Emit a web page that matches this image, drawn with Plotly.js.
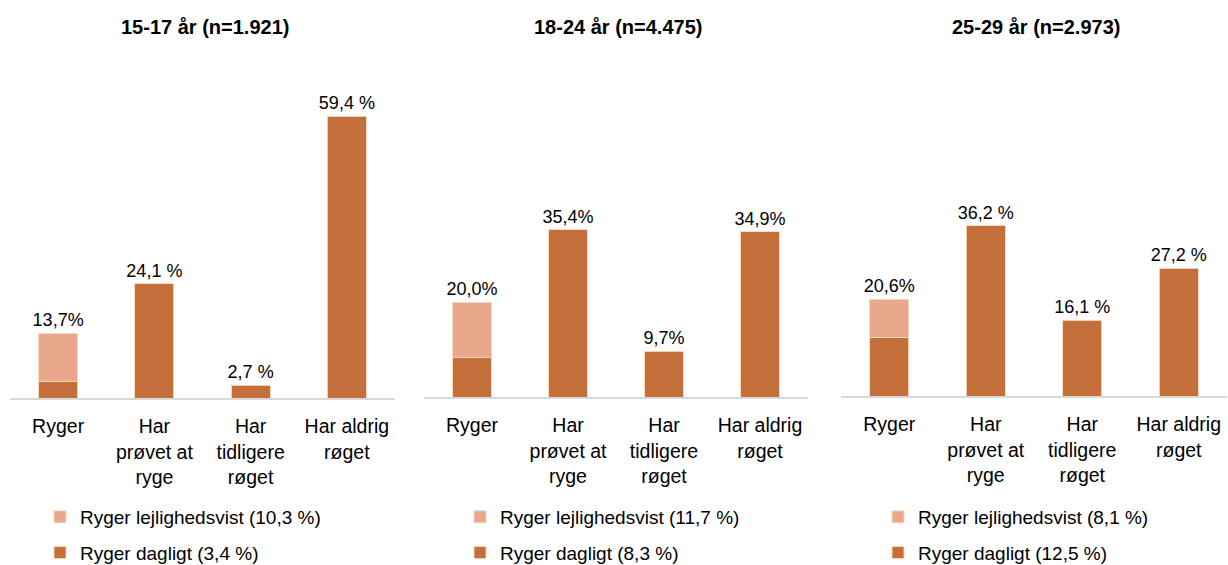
<!DOCTYPE html>
<html>
<head>
<meta charset="utf-8">
<script src="https://cdn.plot.ly/plotly-3.0.1.min.js"></script>
<style>
html,body{margin:0;padding:0;background:#fff;}
#chart{width:1228px;height:565px;}
</style>
</head>
<body>
<div id="chart"></div>
<script>
// ---- data ----
const panelTitles = ['15-17 år (n=1.921)', '18-24 år (n=4.475)', '25-29 år (n=2.973)'];
const categories = ['Ryger', 'Har prøvet at ryge', 'Har tidligere røget', 'Har aldrig røget'];
const tickLabels = ['Ryger', 'Har<br>prøvet at<br>ryge', 'Har<br>tidligere<br>røget', 'Har aldrig<br>røget'];
const dailySmokers = [3.4, 8.3, 12.5];
const occasionalSmokers = [10.3, 11.7, 8.1];
const triedSmoking = [24.1, 35.4, 36.2];
const formerSmokers = [2.7, 9.7, 16.1];
const neverSmoked = [59.4, 34.9, 27.2];
const smokerLabels = ['13,7%', '20,0%', '20,6%'];
const triedLabels = ['24,1 %', '35,4%', '36,2 %'];
const formerLabels = ['2,7 %', '9,7%', '16,1 %'];
const neverLabels = ['59,4 %', '34,9%', '27,2 %'];

// ---- styles / layout ----
const DARK = '#C5703A';
const LIGHT = '#E9A88C';
const EDGE = 'rgba(250,215,190,0.9)';
const FONT = 'Liberation Sans, Arial, sans-serif';
const W = 1228, H = 565;
const xPix = [[10, 395], [424, 808], [841, 1227]];
const baseY = [398, 397, 396];
const pxPerPct = [4.74, 4.73, 4.70];
const plotH = 300;
const legendLeft = [40, 460, 878];

const fmt = v => v.toFixed(1).replace('.', ',');

const traces = [];
const layout = {
  width: W, height: H,
  margin: {l: 0, r: 0, t: 0, b: 0, autoexpand: false},
  paper_bgcolor: '#fff', plot_bgcolor: '#fff',
  barmode: 'stack', bargap: 0.594,
  showlegend: true,
  font: {family: FONT, color: '#000'},
  annotations: []
};

for (let p = 0; p < 3; p++) {
  const sx = p === 0 ? '' : String(p + 1);
  const xa = 'x' + sx, ya = 'y' + sx;
  const lg = 'legend' + sx;
  const common = {type: 'bar', xaxis: xa, yaxis: ya, hoverinfo: 'skip',
    textposition: 'outside', constraintext: 'none', cliponaxis: false,
    textfont: {family: FONT, size: 18, color: '#000'}, legend: lg};
  traces.push(Object.assign({}, common, {
    x: [categories[0]], y: [dailySmokers[p]],
    name: 'Ryger dagligt (' + fmt(dailySmokers[p]) + ' %)',
    legendgroup: 'd' + p, legendrank: 2,
    marker: {color: DARK, line: {color: EDGE, width: 1}}
  }));
  traces.push(Object.assign({}, common, {
    x: [categories[0]], y: [occasionalSmokers[p]],
    text: [smokerLabels[p]],
    name: 'Ryger lejlighedsvist (' + fmt(occasionalSmokers[p]) + ' %)',
    legendgroup: 'o' + p, legendrank: 1,
    marker: {color: LIGHT, line: {color: EDGE, width: 1}}
  }));
  traces.push(Object.assign({}, common, {
    x: categories.slice(1), y: [triedSmoking[p], formerSmokers[p], neverSmoked[p]],
    text: [triedLabels[p], formerLabels[p], neverLabels[p]],
    showlegend: false, legendgroup: 'n' + p, legendrank: 3,
    marker: {color: DARK, line: {color: EDGE, width: 1}}
  }));

  layout['xaxis' + sx] = {
    domain: [xPix[p][0] / W, xPix[p][1] / W],
    anchor: ya,
    type: 'category',
    categoryorder: 'array', categoryarray: categories,
    tickmode: 'array', tickvals: categories, ticktext: tickLabels,
    showline: true, linecolor: '#D9D9D9', linewidth: 2,
    showgrid: false, zeroline: false, ticks: '',
    ticklabelstandoff: 10,
    tickfont: {family: FONT, size: 19.5, color: '#000'},
    fixedrange: true
  };
  layout['yaxis' + sx] = {
    domain: [(H - baseY[p]) / H, (H - baseY[p] + plotH) / H],
    anchor: xa,
    range: [0, plotH / pxPerPct[p]],
    visible: false, showgrid: false, zeroline: false, fixedrange: true
  };
  layout[lg] = {
    x: legendLeft[p] / W, xanchor: 'left',
    y: (H - 498) / H, yanchor: 'top',
    bgcolor: 'rgba(0,0,0,0)', borderwidth: 0,
    font: {family: FONT, size: 19, color: '#000'},
    traceorder: 'grouped', tracegroupgap: 8,
    orientation: 'v'
  };
  layout.annotations.push({
    xref: 'paper', yref: 'paper',
    x: (xPix[p][0] + xPix[p][1]) / 2 / W + 0.002, y: (H - 27) / H,
    xanchor: 'center', yanchor: 'middle', showarrow: false,
    text: '<b>' + panelTitles[p] + '</b>',
    font: {family: FONT, size: 20, color: '#000'}
  });
}

Plotly.newPlot('chart', traces, layout, {displayModeBar: false, staticPlot: true});
</script>
</body>
</html>
